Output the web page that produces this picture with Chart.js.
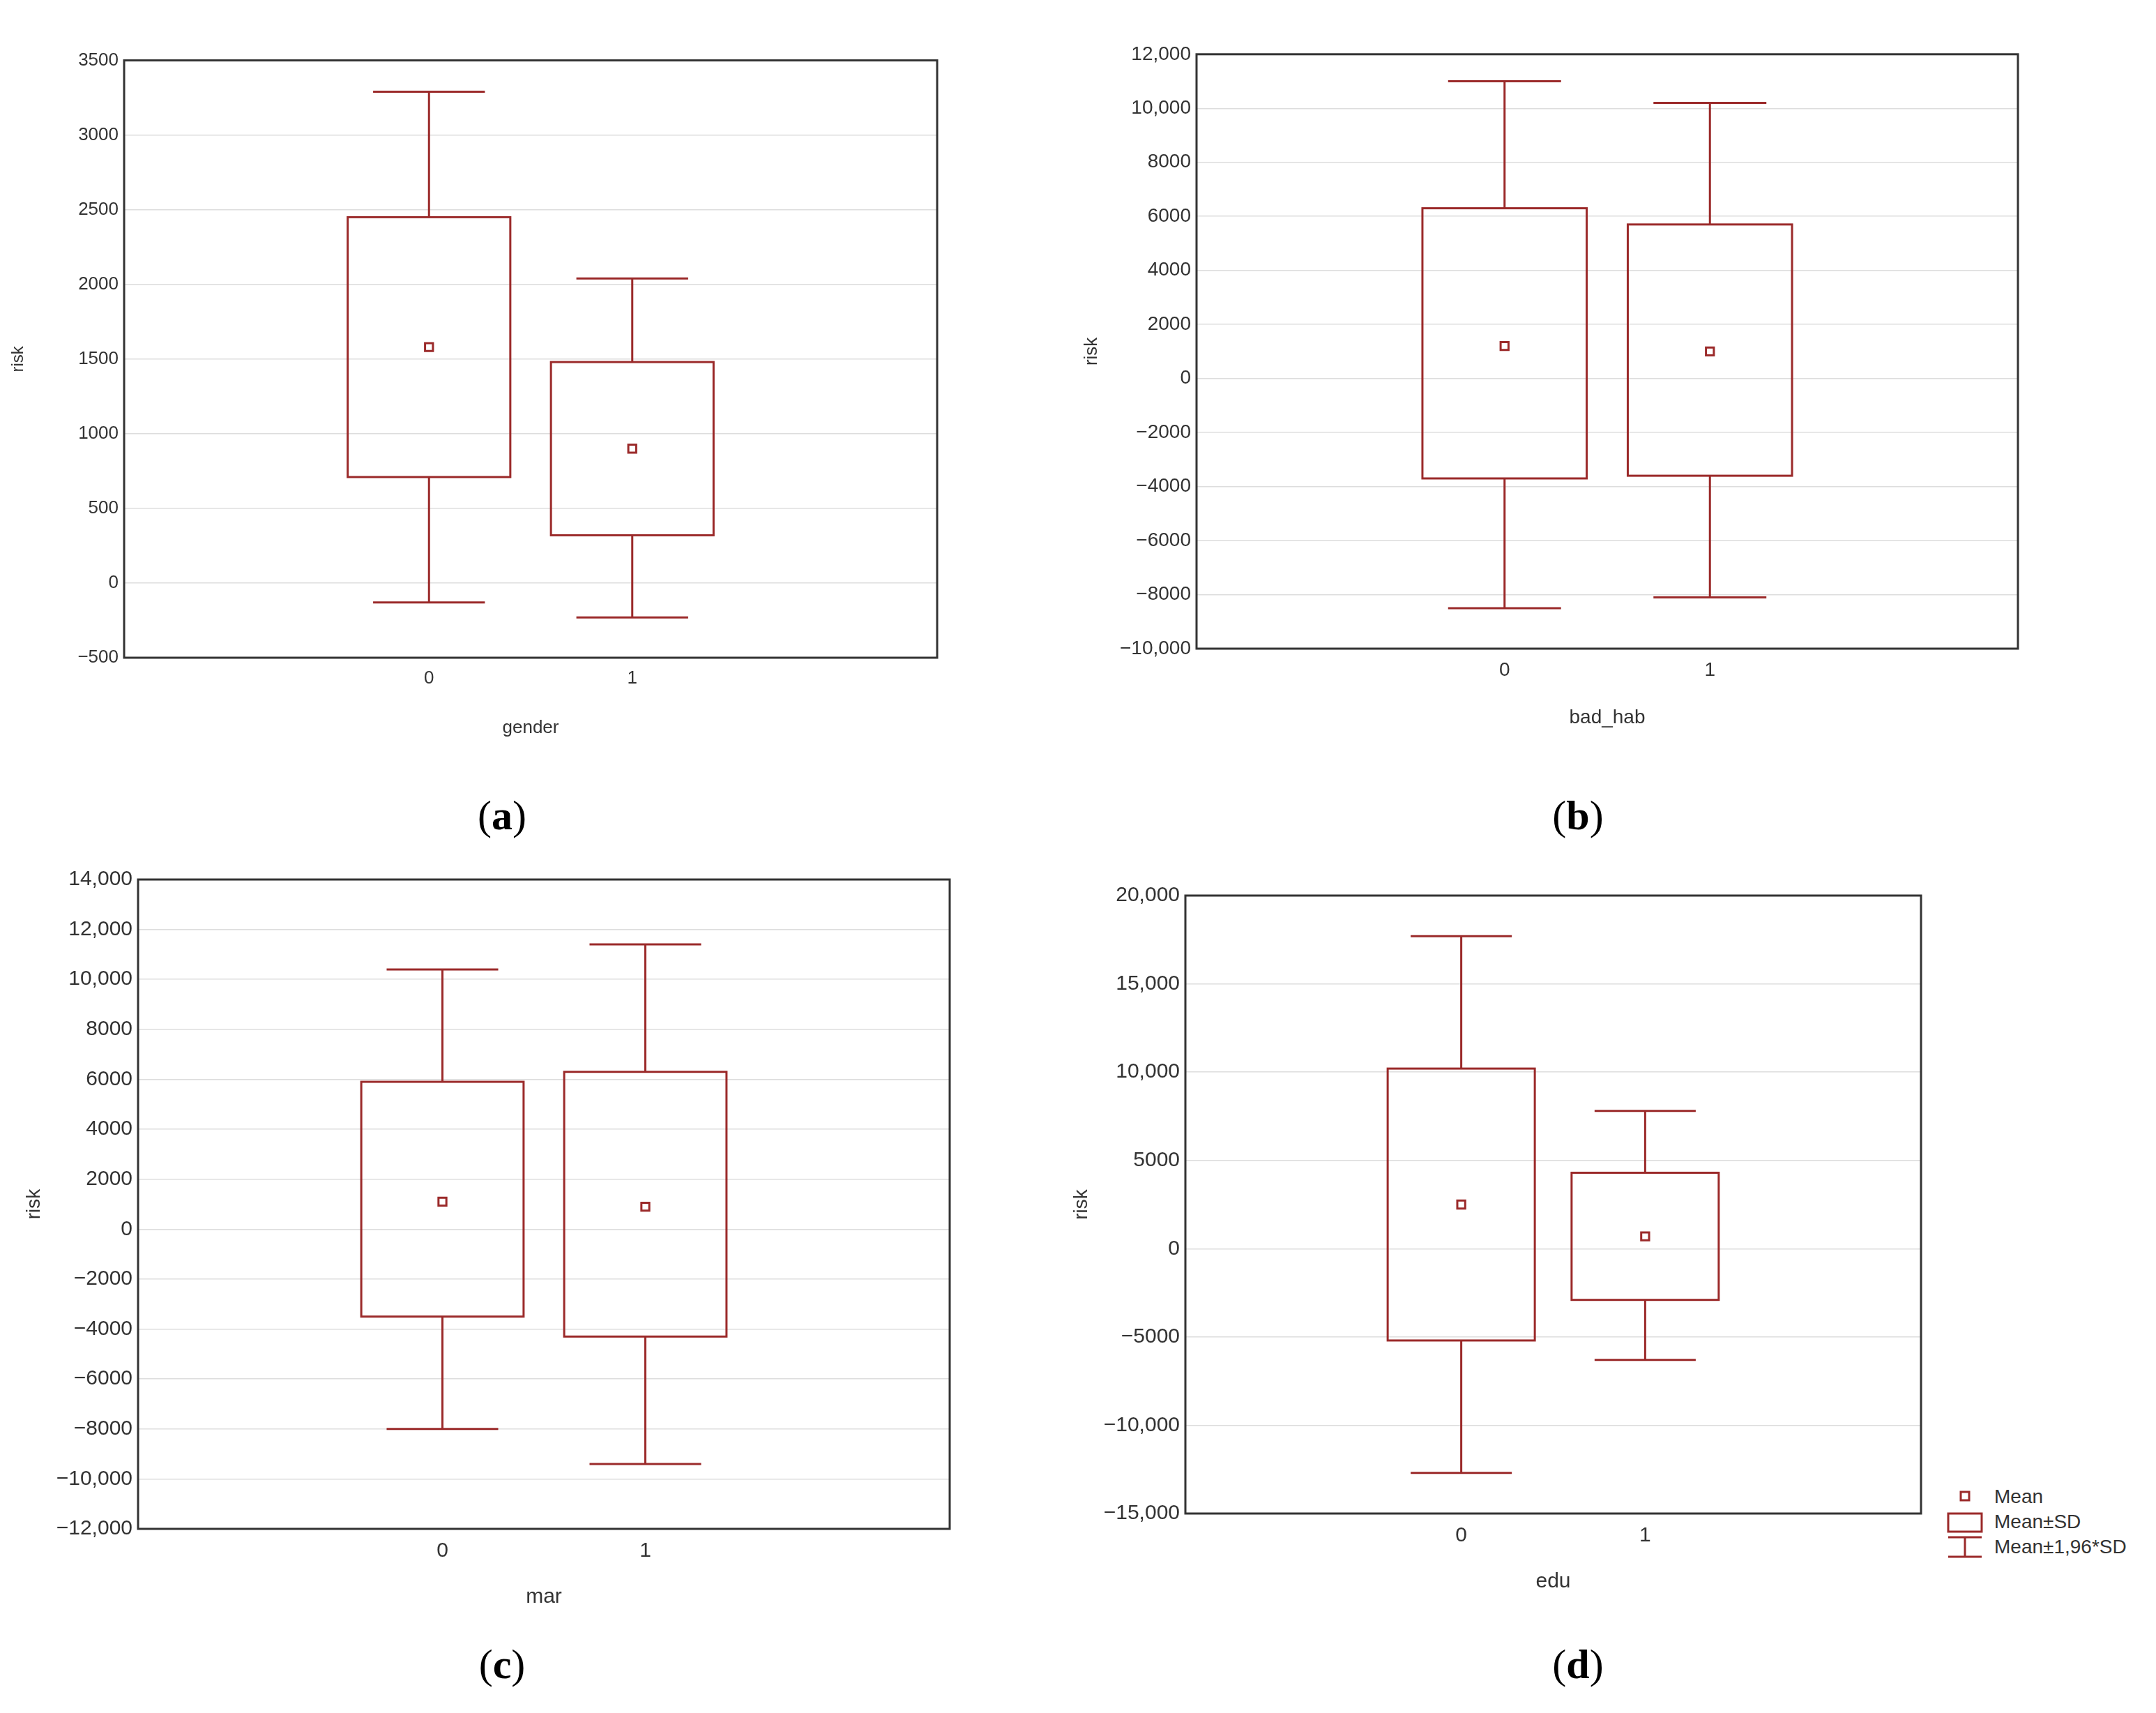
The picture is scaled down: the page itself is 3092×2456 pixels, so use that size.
<!DOCTYPE html>
<html>
<head>
<meta charset="utf-8">
<script src="https://cdn.jsdelivr.net/npm/chart.js@4"></script>
<style>
  body { margin: 0; background: #fff; width: 3092px; height: 2456px; position: relative; overflow: hidden; font-family: "Liberation Sans", Arial, sans-serif; }
  .panel { position: absolute; }
  .cap { position: absolute; font-family: "Liberation Serif", serif; font-size: 60px; transform: translateX(-50%); }
  .legend { position: absolute; left: 2790px; top: 2128px; font-size: 28px; color: #333; line-height: 36px; }
  .legend div { position: relative; padding-left: 70px; }
  .ico { position: absolute; left: 0; top: 0; width: 60px; height: 36px; }
</style>
</head>
<body>
<div class="panel" id="pa"><canvas id="ca"></canvas></div>
<div class="panel" id="pb"><canvas id="cb"></canvas></div>
<div class="panel" id="pc"><canvas id="cc"></canvas></div>
<div class="panel" id="pd"><canvas id="cd"></canvas></div>
<div class="cap" style="left:720px;top:1135px">(<b>a</b>)</div>
<div class="cap" style="left:2263px;top:1135px">(<b>b</b>)</div>
<div class="cap" style="left:720px;top:2352px">(<b>c</b>)</div>
<div class="cap" style="left:2263px;top:2352px">(<b>d</b>)</div>
<div class="legend">
  <div><svg class="ico"><rect x="22" y="11" width="12" height="12" fill="#fff" stroke="#9b2a2a" stroke-width="3"/></svg>Mean</div>
  <div><svg class="ico"><rect x="4" y="6" width="48" height="26" fill="#fff" stroke="#9b2a2a" stroke-width="3"/></svg>Mean±SD</div>
  <div><svg class="ico"><path d="M4 4H52M28 4V32M4 32H52" stroke="#9b2a2a" stroke-width="3" fill="none"/></svg>Mean±1,96*SD</div>
</div>
<script>
const groups = [0, 1];

// panel (a) gender
const genderMean = [1580, 900];
const genderSdLow = [710, 320];
const genderSdHigh = [2450, 1480];
const genderCiLow = [-130, -230];
const genderCiHigh = [3290, 2040];

// panel (b) bad_hab
const badHabMean = [1200, 1000];
const badHabSdLow = [-3700, -3600];
const badHabSdHigh = [6300, 5700];
const badHabCiLow = [-8500, -8100];
const badHabCiHigh = [11000, 10200];

// panel (c) mar
const marMean = [1100, 900];
const marSdLow = [-3500, -4300];
const marSdHigh = [5900, 6300];
const marCiLow = [-8000, -9400];
const marCiHigh = [10400, 11400];

// panel (d) edu
const eduMean = [2500, 700];
const eduSdLow = [-5200, -2900];
const eduSdHigh = [10200, 4300];
const eduCiLow = [-12700, -6300];
const eduCiHigh = [17700, 7800];

const RED = '#9b2a2a';
const YW = 170, XH = 120, PT = 20, PR = 20;

function fmt(v) {
    const s = Math.abs(v) >= 10000 ? Math.abs(v).toLocaleString('en-US') : String(Math.abs(v));
    return v < 0 ? '\u2212' + s : s;
}

const boxPlugin = {
    id: 'boxes',
    beforeDatasetsDraw(chart) {
        const o = chart.options.plugins.boxes;
        const ctx = chart.ctx, xs = chart.scales.x, ys = chart.scales.y;
        ctx.save();
        ctx.strokeStyle = RED;
        ctx.lineWidth = 3;
        groups.forEach((g, i) => {
            const xc = xs.getPixelForValue(g);
            const bw = xs.getPixelForValue(0.4) - xs.getPixelForValue(0);
            const ww = xs.getPixelForValue(0.275) - xs.getPixelForValue(0);
            const yLo = ys.getPixelForValue(o.ciLow[i]), yHi = ys.getPixelForValue(o.ciHigh[i]);
            const bLo = ys.getPixelForValue(o.sdLow[i]), bHi = ys.getPixelForValue(o.sdHigh[i]);
            ctx.beginPath();
            ctx.moveTo(xc, bHi); ctx.lineTo(xc, yHi);
            ctx.moveTo(xc - ww, yHi); ctx.lineTo(xc + ww, yHi);
            ctx.moveTo(xc, bLo); ctx.lineTo(xc, yLo);
            ctx.moveTo(xc - ww, yLo); ctx.lineTo(xc + ww, yLo);
            ctx.stroke();
            ctx.strokeRect(xc - bw, bHi, 2 * bw, bLo - bHi);
        });
        ctx.restore();
    },
    afterDraw(chart) {
        const a = chart.chartArea, ctx = chart.ctx;
        ctx.save();
        ctx.strokeStyle = '#333';
        ctx.lineWidth = 3;
        ctx.strokeRect(a.left, a.top, a.right - a.left, a.bottom - a.top);
        ctx.restore();
    }
};

function makeChart(id, panelId, box, xTitle, mean, sdLow, sdHigh, ciLow, ciHigh, yMin, yMax, yStep, fs) {
    const p = document.getElementById(panelId);
    const W = box[2] - box[0] + YW + PR, H = box[3] - box[1] + PT + XH;
    p.style.left = (box[0] - YW) + 'px';
    p.style.top = (box[1] - PT) + 'px';
    p.style.width = W + 'px';
    p.style.height = H + 'px';
    new Chart(document.getElementById(id).getContext('2d'), {
        type: 'scatter',
        data: {
            datasets: [{
                data: groups.map((g, i) => ({ x: g, y: mean[i] })),
                pointStyle: 'rect', pointRadius: 8, borderWidth: 3,
                borderColor: RED, backgroundColor: '#fff'
            }]
        },
        options: {
            responsive: true, maintainAspectRatio: false, animation: false, devicePixelRatio: 1,
            layout: { padding: { top: PT, right: PR, left: 0, bottom: 0 } },
            plugins: {
                legend: { display: false }, tooltip: { enabled: false },
                boxes: { sdLow, sdHigh, ciLow, ciHigh }
            },
            scales: {
                x: {
                    type: 'linear', min: -1.5, max: 2.5,
                    ticks: { stepSize: 0.5, color: '#333', font: { size: fs }, padding: 6,
                        callback: v => (v === 0 || v === 1) ? String(v) : '' },
                    grid: { display: false, drawTicks: true },
                    border: { display: false },
                    title: { display: true, text: xTitle, color: '#333', font: { size: fs }, padding: { top: 0 } },
                    afterFit: s => { s.height = XH; }
                },
                y: {
                    min: yMin, max: yMax,
                    ticks: { stepSize: yStep, color: '#333', font: { size: fs }, callback: v => fmt(v), padding: 8 },
                    grid: { color: '#ddd', lineWidth: 1.5, borderDash: [4, 4], drawTicks: false },
                    border: { display: false },
                    title: { display: true, text: 'risk', color: '#333', font: { size: fs - 2 }, padding: { bottom: 0 } },
                    afterFit: s => { s.width = YW; }
                }
            }
        },
        plugins: [boxPlugin]
    });
}

makeChart('ca', 'pa', [178, 83, 1344, 943], 'gender', genderMean, genderSdLow, genderSdHigh, genderCiLow, genderCiHigh, -500, 3500, 500, 26);
makeChart('cb', 'pb', [1716, 73, 2894, 930], 'bad_hab', badHabMean, badHabSdLow, badHabSdHigh, badHabCiLow, badHabCiHigh, -10000, 12000, 2000, 28);
makeChart('cc', 'pc', [198, 1255, 1362, 2192], 'mar', marMean, marSdLow, marSdHigh, marCiLow, marCiHigh, -12000, 14000, 2000, 30);
makeChart('cd', 'pd', [1700, 1278, 2755, 2170], 'edu', eduMean, eduSdLow, eduSdHigh, eduCiLow, eduCiHigh, -15000, 20000, 5000, 30);
</script>
</body>
</html>
